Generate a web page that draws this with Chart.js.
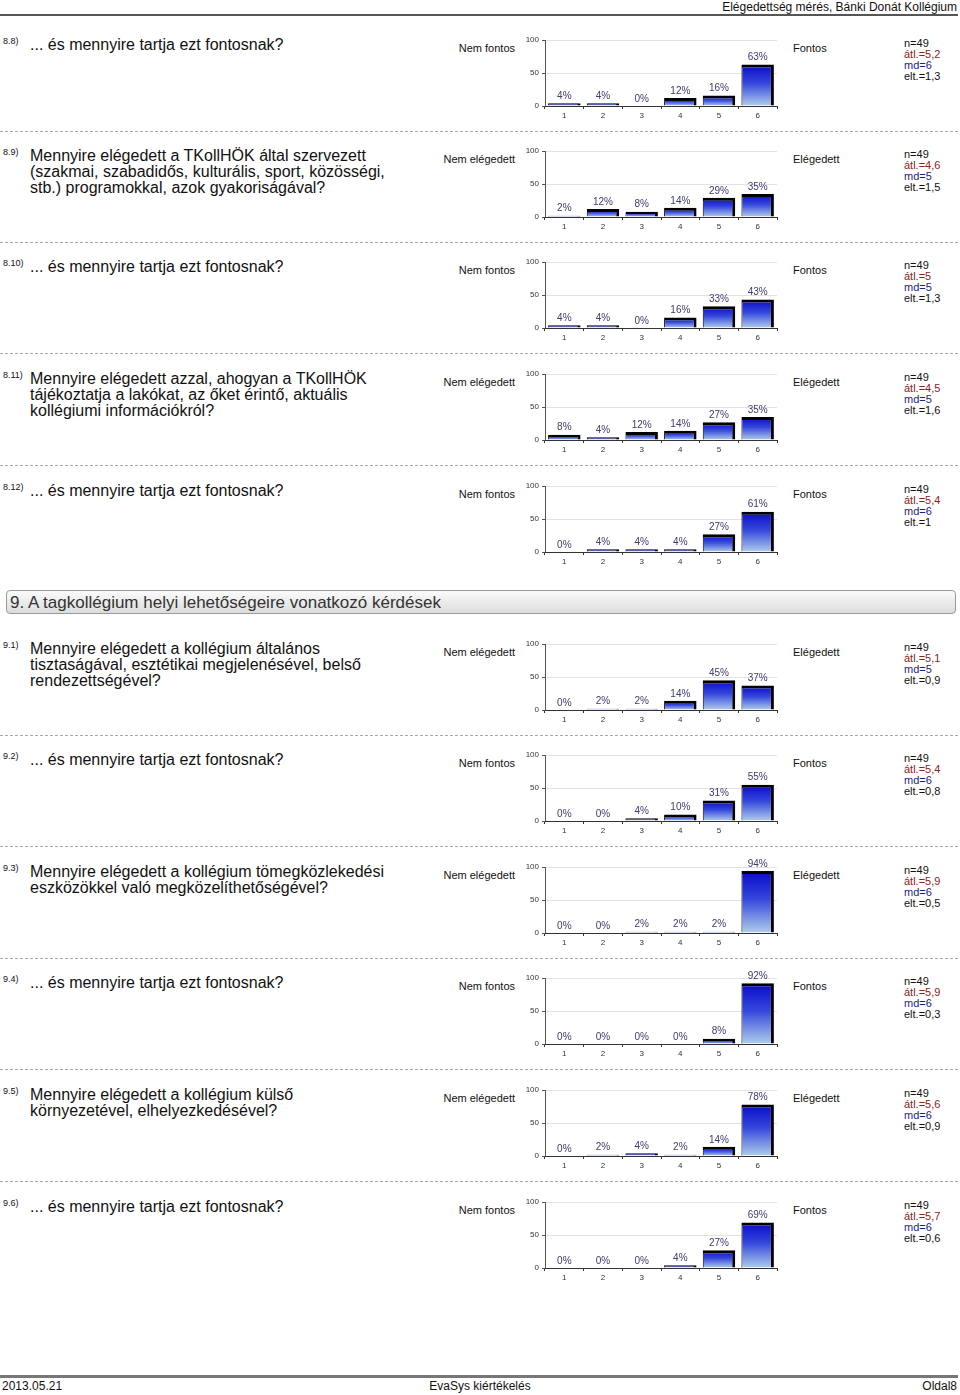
<!DOCTYPE html>
<html>
<head>
<meta charset="utf-8">
<script src="https://cdn.jsdelivr.net/npm/chart.js@4.4.1/dist/chart.umd.min.js"></script>
<style>
  body { margin: 0; width: 960px; height: 1395px; position: relative; background: #fff;
         font-family: "Liberation Sans", Arial, sans-serif; color: #111; overflow: hidden; }
  .abs { position: absolute; }
  .hline { position: absolute; left: 0; width: 958px; }
  .num { font-size: 9px; }
  .q { font-size: 16px; line-height: 16px; color: #111; }
  .lbl { font-size: 11px; }
  .stat { font-size: 11px; line-height: 11px; }
  .sec { left: 6px; top: 590px; width: 950px; height: 24px; border: 1px solid #9a9a9a; border-radius: 4px;
         background: linear-gradient(#fbfbfb, #dcdcdc); font-size: 17px; line-height: 24px; color: #333;
         padding-left: 3px; box-sizing: border-box; }
</style>
</head>
<body>
<div class="abs" style="right:3px;top:0;font-size:12px;">Elégedettség mérés, Bánki Donát Kollégium</div>
<div class="hline" style="top:14px;height:2px;background:#555;"></div>

<div class="abs sec">9. A tagkollégium helyi lehetőségeire vonatkozó kérdések</div>

<div class="hline" style="top:1375px;height:3px;background:#777;"></div>
<div class="abs" style="left:2px;top:1379px;font-size:12px;">2013.05.21</div>
<div class="abs" style="left:0;width:960px;text-align:center;top:1379px;font-size:12px;">EvaSys kiértékelés</div>
<div class="abs" style="right:3px;top:1379px;font-size:12px;">Oldal8</div>

<script>
const categories = ['1', '2', '3', '4', '5', '6'];

// percentages per question
const q8_8  = [4, 4, 0, 12, 16, 63];
const q8_9  = [2, 12, 8, 14, 29, 35];
const q8_10 = [4, 4, 0, 16, 33, 43];
const q8_11 = [8, 4, 12, 14, 27, 35];
const q8_12 = [0, 4, 4, 4, 27, 61];
const q9_1  = [0, 2, 2, 14, 45, 37];
const q9_2  = [0, 0, 4, 10, 31, 55];
const q9_3  = [0, 0, 2, 2, 2, 94];
const q9_4  = [0, 0, 0, 0, 8, 92];
const q9_5  = [0, 2, 4, 2, 14, 78];
const q9_6  = [0, 0, 0, 4, 27, 69];

const ids = ['8.8)', '8.9)', '8.10)', '8.11)', '8.12)', '9.1)', '9.2)', '9.3)', '9.4)', '9.5)', '9.6)'];
const imp = '... és mennyire tartja ezt fontosnak?';
const texts = [
  imp,
  'Mennyire elégedett a TKollHÖK által szervezett<br>(szakmai, szabadidős, kulturális, sport, közösségi,<br>stb.) programokkal, azok gyakoriságával?',
  imp,
  'Mennyire elégedett azzal, ahogyan a TKollHÖK<br>tájékoztatja a lakókat, az őket érintő, aktuális<br>kollégiumi információkról?',
  imp,
  'Mennyire elégedett a kollégium általános<br>tisztaságával, esztétikai megjelenésével, belső<br>rendezettségével?',
  imp,
  'Mennyire elégedett a kollégium tömegközlekedési<br>eszközökkel való megközelíthetőségével?',
  imp,
  'Mennyire elégedett a kollégium külső<br>környezetével, elhelyezkedésével?',
  imp
];
const lowLabels  = ['Nem fontos', 'Nem elégedett', 'Nem fontos', 'Nem elégedett', 'Nem fontos', 'Nem elégedett', 'Nem fontos', 'Nem elégedett', 'Nem fontos', 'Nem elégedett', 'Nem fontos'];
const highLabels = ['Fontos', 'Elégedett', 'Fontos', 'Elégedett', 'Fontos', 'Elégedett', 'Fontos', 'Elégedett', 'Fontos', 'Elégedett', 'Fontos'];
const nVals   = ['49', '49', '49', '49', '49', '49', '49', '49', '49', '49', '49'];
const avgVals = ['5,2', '4,6', '5', '4,5', '5,4', '5,1', '5,4', '5,9', '5,9', '5,6', '5,7'];
const mdVals  = ['6', '5', '5', '5', '6', '5', '6', '6', '6', '6', '6'];
const devVals = ['1,3', '1,5', '1,3', '1,6', '1', '0,9', '0,8', '0,5', '0,3', '0,9', '0,6'];
const series = [q8_8, q8_9, q8_10, q8_11, q8_12, q9_1, q9_2, q9_3, q9_4, q9_5, q9_6];

// y of the "100" grid line for each block
const tops = [40, 151, 262, 374, 486, 644, 755, 867, 978, 1090, 1202];

function barFill(c) {
  const ch = c.chart;
  if (!ch.chartArea) return '#2030d0';
  const y = ch.scales.y;
  const top = y.getPixelForValue(c.raw);
  const bot = y.getPixelForValue(0);
  const g = ch.ctx.createLinearGradient(0, top, 0, bot + 0.01);
  g.addColorStop(0, '#0a0ac8');
  g.addColorStop(0.45, '#3447dc');
  g.addColorStop(1, '#b0cdec');
  return g;
}

const pctLabels = {
  id: 'pctLabels',
  afterDatasetsDraw(chart) {
    const ctx = chart.ctx;
    const meta = chart.getDatasetMeta(0);
    const vals = chart.data.datasets[0].data;
    ctx.save();
    ctx.font = '10px "Liberation Sans", Arial, sans-serif';
    ctx.fillStyle = '#3c3c6e';
    ctx.textAlign = 'center';
    ctx.textBaseline = 'bottom';
    meta.data.forEach((bar, i) => {
      const yy = vals[i] > 0 ? bar.y - 2 : bar.y - 2;
      ctx.fillText(vals[i] + '%', bar.x, yy);
    });
    ctx.restore();
  }
};

const body = document.body;
function add(html) { body.insertAdjacentHTML('beforeend', html); }

series.forEach((vals, i) => {
  const T = tops[i];
  add(`<div class="abs num" style="left:3px;top:${T - 4}px;">${ids[i]}</div>`);
  add(`<div class="abs q" style="left:30px;top:${T - 3}px;">${texts[i]}</div>`);
  add(`<div class="abs lbl" style="right:${960 - 515}px;top:${T + 2}px;">${lowLabels[i]}</div>`);
  add(`<div class="abs lbl" style="left:793px;top:${T + 2}px;">${highLabels[i]}</div>`);
  add(`<div class="abs stat" style="left:904px;top:${T - 2}px;">n=${nVals[i]}<br>` +
      `<span style="color:#8a2222">átl.=${avgVals[i]}</span><br>` +
      `<span style="color:#1c1c86">md=${mdVals[i]}</span><br>elt.=${devVals[i]}</div>`);
  if (i !== 4 && i !== 10) {
    add(`<div class="hline" style="top:${T + 91}px;border-top:1px dashed #a8a8a8;"></div>`);
  }
  add(`<canvas id="c${i}" width="265" height="92" class="abs" style="left:520px;top:${T - 8}px;"></canvas>`);

  new Chart(document.getElementById('c' + i), {
    type: 'bar',
    data: {
      labels: categories,
      datasets: [{
        data: vals,
        backgroundColor: barFill,
        borderColor: '#000',
        borderWidth: c => c.raw > 0 ? { top: 3, right: 3, left: 1, bottom: 0 } : 0,
        borderSkipped: false,
        barPercentage: 0.84,
        categoryPercentage: 1
      }]
    },
    options: {
      responsive: false,
      animation: false,
      layout: { padding: { top: 8, right: 8, left: 0, bottom: 0 } },
      plugins: { legend: { display: false }, tooltip: { enabled: false } },
      scales: {
        y: {
          min: 0, max: 100,
          ticks: { stepSize: 50, font: { size: 8 }, color: '#333', padding: 3 },
          grid: { color: '#e2e2e2', tickLength: 3, tickColor: '#555' },
          border: { color: '#555' },
          afterFit: s => { s.width = 25; }
        },
        x: {
          ticks: { font: { size: 8 }, color: '#333', padding: 2 },
          grid: { drawOnChartArea: false, tickLength: 3, color: '#333' },
          border: { color: '#333' },
          afterFit: s => { s.height = 18; }
        }
      }
    },
    plugins: [pctLabels]
  });
});
</script>
</body>
</html>
